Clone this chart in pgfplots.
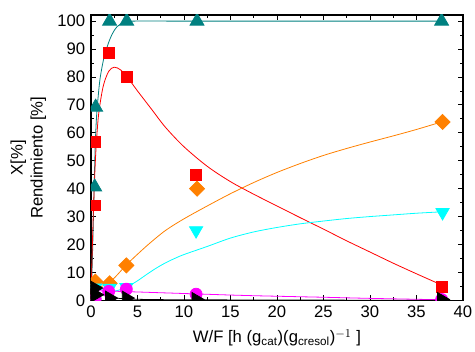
\documentclass[border=0pt]{standalone}
\usepackage{pgfplots}
\pgfplotsset{compat=1.18}
\usetikzlibrary{calc}
\usepackage{fontspec}
\setmainfont{Liberation Sans}
\definecolor{cteal}{RGB}{0,128,128}
\definecolor{cred}{RGB}{255,0,0}
\definecolor{corange}{RGB}{255,128,0}
\definecolor{ccyan}{RGB}{0,255,255}
\definecolor{cmag}{RGB}{255,0,255}
\begin{document}
\fontsize{12.5}{15}\selectfont
\begin{tikzpicture}
\begin{axis}[
  name=ax,
  scale only axis,
  width=279pt, height=214pt,
  xmin=0, xmax=40, ymin=0, ymax=102.2,
  xtick={0,5,...,40}, ytick={0,10,...,100},
  minor xtick={2.5,7.5,...,37.5}, minor ytick={5,15,...,95},
  tick align=inside, tick pos=both,
  major tick length=4pt, minor tick length=2.5pt,
  tick style={black, line width=0.6pt},
  axis line style={line width=0.8pt},
  /pgf/number format/assume math mode=true,
  ticklabel style={font=\fontsize{12.5}{15}\selectfont},
  label style={font=\fontsize{12.5}{15}\selectfont},
  xlabel={W/F [h (g$_{\mathrm{cat}}$)(g$_{\mathrm{cresol}}$)$^{-1}$ ]},
  ylabel={X[\%]\\Rendimiento [\%]},
  ylabel style={align=center},
  clip marker paths=true,
  every axis plot/.append style={line width=0.6pt},
]
% fitted curves
\addplot[cteal, smooth, no marks] coordinates {(0,0)(0.15,15)(0.3,35)(0.45,55)(0.6,66)(0.8,74)(1.0,80)(1.4,87)(1.86,92)(2.3,95.5)(2.8,98)(3.5,99.5)(4.5,100)(10,100)(20,100)(37.7,100)};
\addplot[cred, smooth, no marks] coordinates {(0,0)(0.15,20)(0.3,36)(0.5,52)(0.8,66)(1.3,76.5)(1.9,82)(2.5,83.5)(3.2,82.5)(4,79.5)(5,75)(6.5,68.5)(8,62)(10,55)(12.5,48)(15,42.5)(17.5,38)(20,33.8)(22.5,29.6)(25,25.5)(27.5,21.3)(30,17.3)(32.5,13.3)(35,9.5)(37.7,5.5)};
\addplot[corange, smooth, no marks] coordinates {(0,0)(0.3,3)(0.8,4.5)(1.5,5.5)(2.5,8)(3.8,12.7)(5,16.5)(6.3,20.4)(8,25)(10,29.2)(12.5,33.8)(15,38.2)(17.5,42.2)(20,45.8)(22.5,49.0)(25,51.9)(27.5,54.4)(30,56.7)(32.5,58.9)(35,61.2)(37.7,63.9)};
\addplot[ccyan, smooth, no marks] coordinates {(0,0)(0.3,3)(0.8,4)(1.5,3.5)(2.5,3.3)(3.2,3.9)(4,5)(5,7)(6,9.3)(7,11.5)(8,13.4)(9,15)(10,16.4)(12.5,19.3)(15,22.3)(17.5,24.5)(20,26.1)(22.5,27.4)(25,28.4)(27.5,29.3)(30,30)(32.5,30.6)(35,31.2)(37.7,31.7)};
\addplot[cmag, smooth, no marks] coordinates {(0,3.5)(2,3.3)(4,3.1)(11.3,2.3)(17,1.7)(25,1.1)(30,0.7)(37.7,0.2)};
\addplot[black, smooth, no marks] coordinates {(0,5)(0.5,3.5)(1,2.5)(2,1.2)(4,0.5)(10,0.2)(37.7,0)};
% data points
\addplot[only marks, mark=triangle*, mark size=6pt, cteal] coordinates {(0.4,40.6)(0.5,69.2)(2.0,100)(3.84,100)(11.4,100)(37.7,100)};
\addplot[only marks, mark=square*, mark size=4.1pt, cred] coordinates {(0.4,34)(0.45,56.6)(1.9,88.6)(3.84,80)(11.3,45)(37.7,4.8)};
\addplot[only marks, mark=square*, mark options={rotate=45}, mark size=4pt, corange] coordinates {(0.46,6.7)(2.0,6.1)(3.8,12.5)(11.4,40)(37.8,63.9)};
\addplot[only marks, mark=triangle*, mark options={rotate=180}, mark size=5.7pt, ccyan] coordinates {(0.46,4.5)(2.0,4.4)(3.8,4.7)(11.3,25)(37.8,31.5)};
\addplot[only marks, mark=*, mark size=4.5pt, cmag] coordinates {(0.46,0.5)(1.9,3.2)(3.8,4.0)(11.3,2.2)(37.7,0.3)};
\addplot[only marks, mark=triangle*, mark options={rotate=-90}, mark size=6pt, black] coordinates {(0.4,4.4)(0.5,2)(2.0,0.8)(3.8,0.8)(11.3,0.3)(37.7,0.3)};
\end{axis}
\pgfresetboundingbox
\path ($(ax.south west)+(-68.25pt,-38.25pt)$) rectangle ($(ax.north east)+(9pt,11.25pt)$);
\end{tikzpicture}
\end{document}
